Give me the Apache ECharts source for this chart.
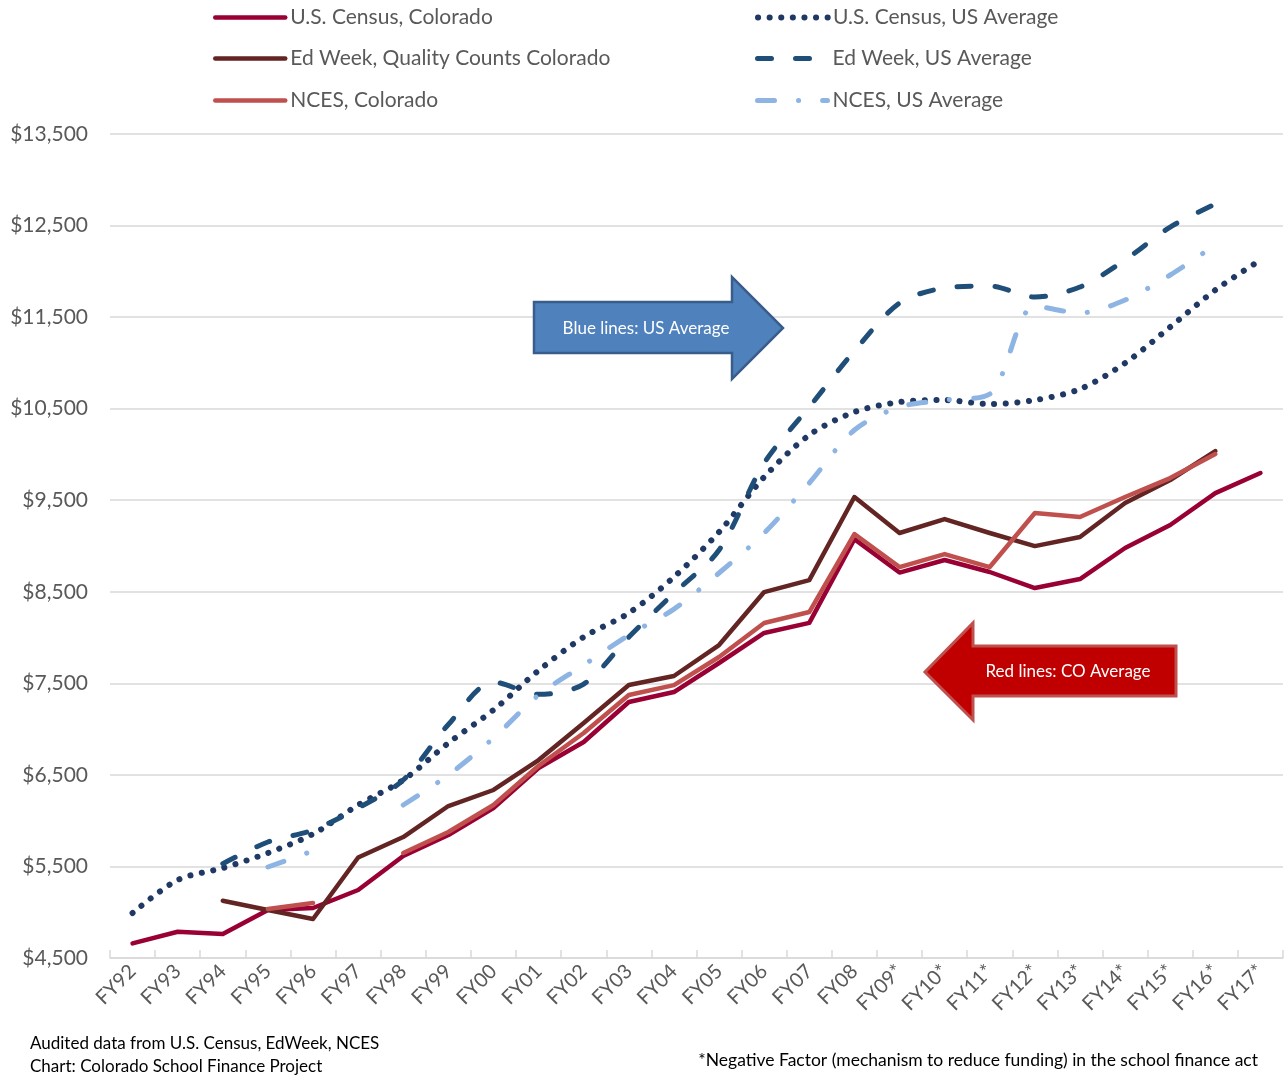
<!DOCTYPE html>
<html>
<head>
<meta charset="utf-8">
<script src="https://cdn.jsdelivr.net/npm/echarts@6/dist/echarts.min.js"></script>
<style>
  html, body { margin: 0; padding: 0; background: #fff; }
  #chart { width: 1284px; height: 1078px; }
</style>
</head>
<body>
<div id="chart"></div>
<script>
// fiscal years
var years = ["FY92", "FY93", "FY94", "FY95", "FY96", "FY97", "FY98", "FY99", "FY00", "FY01",
  "FY02", "FY03", "FY04", "FY05", "FY06", "FY07", "FY08", "FY09*", "FY10*", "FY11*",
  "FY12*", "FY13*", "FY14*", "FY15*", "FY16*", "FY17*"];

// per pupil spending, dollars
var censusCO = [4660, 4787, 4762, 5024, 5046, 5243, 5614, 5843, 6138, 6575, 6859, 7296, 7405,
  7722, 8050, 8160, 9075, 8710, 8847, 8716, 8541, 8639, 8978, 9229, 9578, 9797];
var edWeekCO = [null, null, 5126, 5024, 4926, 5598, 5821, 6160, 6335, 6662, 7066, 7481, 7580,
  7918, 8497, 8628, 9535, 9142, 9294, 9142, 8999, 9098, 9469, 9721, 10037, null];
var ncesCO = [null, null, null, 5035, 5100, null, 5647, 5876, 6171, 6600, 6957, 7372, 7481,
  7788, 8159, 8279, 9131, 8770, 8912, 8770, 9360, 9316, 9535, 9742, 10004, null];
var censusUS = [4991, 5352, 5483, 5647, 5854, 6171, 6444, 6848, 7209, 7640, 8006, 8268, 8661,
  9153, 9753, 10212, 10463, 10572, 10594, 10550, 10594, 10714, 10998, 11392, 11796, 12123];
var edWeekUS = [null, null, 5530, 5767, 5898, 6138, 6444, 7050, 7514, 7380, 7492, 8006, 8486,
  8956, 9906, 10518, 11130, 11654, 11818, 11840, 11719, 11829, 12124, 12484, 12735, null];
var ncesUS = [null, null, null, 5494, 5669, null, 6171, 6499, 6903, 7372, 7700, 8028, 8311,
  8705, 9142, 9688, 10267, 10518, 10594, 10660, 11620, 11545, 11687, 11960, 12290, null];

var FONT = "Lato";
var GREY = "#595959";

var chart = echarts.init(document.getElementById("chart"));

function legendAt(name, left, top) {
  return {
    data: [name],
    left: left,
    top: top,
    padding: 0,
    itemWidth: 70,
    itemHeight: 14,
    itemStyle: { opacity: 0 },
    lineStyle: { width: "inherit" },
    textStyle: { fontFamily: FONT, fontSize: 21, color: GREY }
  };
}

function lineSeries(name, data, color, type, width, smooth) {
  return {
    name: name,
    type: "line",
    data: data,
    symbol: "none",
    smooth: smooth,
    connectNulls: false,
    lineStyle: { color: color, width: width, type: type, cap: "round", join: "round" },
    itemStyle: { color: color }
  };
}

chart.setOption({
  animation: false,
  backgroundColor: "#fff",
  textStyle: { fontFamily: FONT },
  legend: [
    legendAt("U.S. Census, Colorado", 213, 7),
    legendAt("Ed Week, Quality Counts Colorado", 213, 48),
    legendAt("NCES, Colorado", 213, 90),
    legendAt("U.S. Census, US Average", 755, 7),
    legendAt("Ed Week, US Average", 755, 48),
    legendAt("NCES, US Average", 755, 90)
  ],
  grid: { left: 110, right: 1, top: 134, bottom: 120, containLabel: false },
  xAxis: {
    type: "category",
    data: years,
    boundaryGap: true,
    axisLine: { lineStyle: { color: "#D9D9D9", width: 1.5 } },
    axisTick: { show: true, inside: true, length: 8, lineStyle: { color: "#D9D9D9", width: 1.5 } },
    axisLabel: { interval: 0, rotate: 45, fontSize: 20, color: GREY, fontFamily: FONT, margin: 10 }
  },
  yAxis: {
    type: "value",
    min: 4500,
    max: 13500,
    interval: 1000,
    axisLine: { show: false },
    axisTick: { show: false },
    splitLine: { lineStyle: { color: "#D9D9D9", width: 1.5 } },
    axisLabel: {
      fontSize: 21, color: GREY, fontFamily: FONT, margin: 22,
      formatter: function (v) { return "$" + v.toLocaleString("en-US"); }
    }
  },
  series: [
    lineSeries("U.S. Census, Colorado", censusCO, "#990033", "solid", 4.5, false),
    lineSeries("Ed Week, Quality Counts Colorado", edWeekCO, "#632523", "solid", 4.5, false),
    lineSeries("NCES, Colorado", ncesCO, "#C0504D", "solid", 4.5, false),
    lineSeries("U.S. Census, US Average", censusUS, "#1F3864", [0.1, 11.5], 6, 0.3),
    lineSeries("Ed Week, US Average", edWeekUS, "#1F4E79", [14, 24], 5, 0.3),
    lineSeries("NCES, US Average", ncesUS, "#8EB4E3", [17, 24, 0.1, 24], 5, 0.3)
  ],
  graphic: [
    {
      type: "polygon",
      shape: { points: [[534, 302], [732, 302], [732, 277], [783, 328], [732, 379], [732, 353], [534, 353]] },
      style: { fill: "#4F81BD", stroke: "#385D8A", lineWidth: 2.5 },
      z: 100
    },
    {
      type: "text", x: 646, y: 329,
      style: { text: "Blue lines: US Average", fill: "#fff", font: "17px " + FONT, align: "center", verticalAlign: "middle" },
      z: 101
    },
    {
      type: "polygon",
      shape: { points: [[1176, 646], [973, 646], [973, 623], [925, 672], [973, 720], [973, 696], [1176, 696]] },
      style: { fill: "#C00000", stroke: "#C0504D", lineWidth: 3 },
      z: 100
    },
    {
      type: "text", x: 1068, y: 672,
      style: { text: "Red lines: CO Average", fill: "#fff", font: "17px " + FONT, align: "center", verticalAlign: "middle" },
      z: 101
    },
    {
      type: "text", x: 30, y: 1044,
      style: { text: "Audited data from U.S. Census, EdWeek, NCES", fill: "#000", font: "17px " + FONT, verticalAlign: "middle" }
    },
    {
      type: "text", x: 30, y: 1067,
      style: { text: "Chart: Colorado School Finance Project", fill: "#000", font: "17px " + FONT, verticalAlign: "middle" }
    },
    {
      type: "text", x: 1258, y: 1060,
      style: { text: "*Negative Factor (mechanism to reduce funding) in the school finance act", fill: "#000", font: "17.5px " + FONT, align: "right", verticalAlign: "middle" }
    }
  ]
});
</script>
</body>
</html>
